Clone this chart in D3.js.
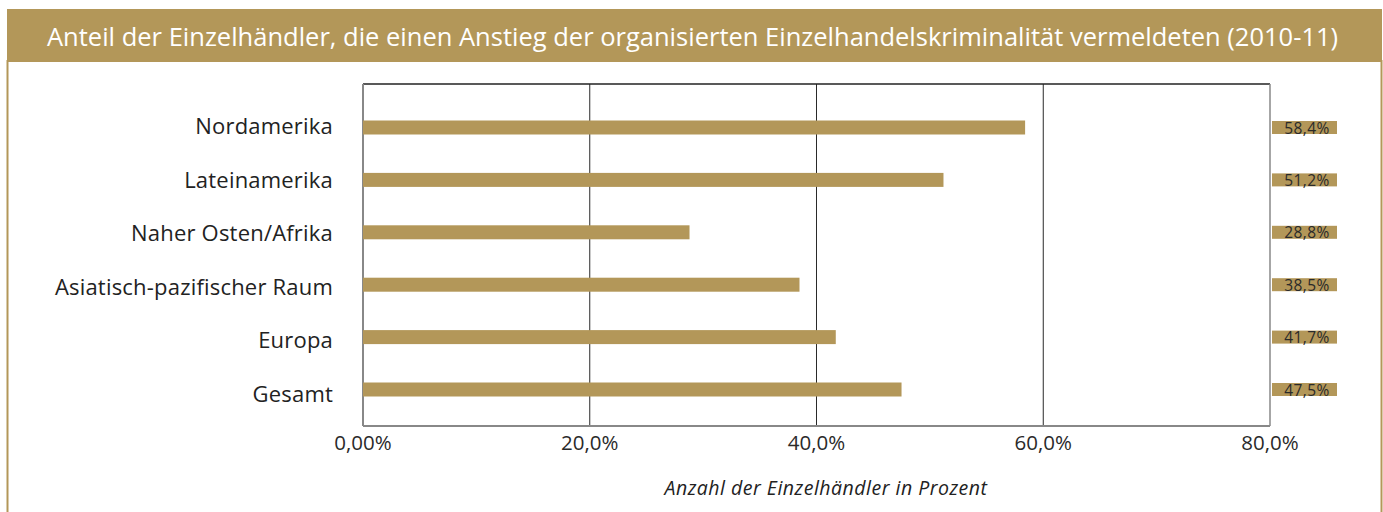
<!DOCTYPE html>
<html>
<head>
<meta charset="utf-8">
<script src="https://cdn.jsdelivr.net/npm/d3@7"></script>
<style>
  body { margin: 0; background: #fff; }
  svg { display: block; font-family: "Open Sans", "DejaVu Sans", sans-serif; }
</style>
</head>
<body>
<div id="chart"></div>
<script>
const titleText = "Anteil der Einzelhändler, die einen Anstieg der organisierten Einzelhandelskriminalität vermeldeten (2010-11)";
const regions = ["Nordamerika", "Lateinamerika", "Naher Osten/Afrika", "Asiatisch-pazifischer Raum", "Europa", "Gesamt"];
const shares = [58.4, 51.2, 28.8, 38.5, 41.7, 47.5];
const shareLabels = ["58,4%", "51,2%", "28,8%", "38,5%", "41,7%", "47,5%"];
const xTicks = [0, 20, 40, 60, 80];
const xTickLabels = ["0,00%", "20,0%", "40,0%", "60,0%", "80,0%"];
const axisTitle = "Anzahl der Einzelhändler in Prozent";

const W = 1383, H = 512;
const gold = "#b39759";

const svg = d3.select("#chart").append("svg")
    .attr("width", W)
    .attr("height", H);

// frame + title bar
svg.append("line").attr("x1", 7.5).attr("x2", 7.5).attr("y1", 60).attr("y2", H)
    .attr("stroke", gold).attr("stroke-width", 2);
svg.append("line").attr("x1", 1381.5).attr("x2", 1381.5).attr("y1", 60).attr("y2", H)
    .attr("stroke", gold).attr("stroke-width", 2);
svg.append("rect").attr("x", 7).attr("y", 9).attr("width", 1375).attr("height", 53)
    .attr("fill", gold);
svg.append("text")
    .attr("x", 47).attr("y", 46)
    .attr("fill", "#fff")
    .style("font-size", "25.5px")
    .text(titleText);

const x = d3.scaleLinear().domain([0, 80]).range([363, 1270]);
// bars and their labels don't sit on quite the same rows in the original
const y = d3.scalePoint().domain(regions).range([127.5, 389.5]);
const yLabel = d3.scalePoint().domain(regions).range([125, 393]);
const plotTop = 84, plotBottom = 426;
const barH = 14;

// vertical gridlines
svg.append("g").selectAll("line")
    .data(xTicks.slice(1, -1))
    .join("line")
    .attr("x1", d => x(d)).attr("x2", d => x(d))
    .attr("y1", plotTop).attr("y2", plotBottom)
    .attr("stroke", "#2a2a2a").attr("stroke-width", 1);

// plot frame
svg.append("line").attr("x1", x(0)).attr("x2", x(80)).attr("y1", plotTop).attr("y2", plotTop)
    .attr("stroke", "#222").attr("stroke-width", 1.5);
svg.append("line").attr("x1", x(80)).attr("x2", x(80)).attr("y1", plotTop).attr("y2", plotBottom)
    .attr("stroke", "#888").attr("stroke-width", 1.5);
svg.append("line").attr("x1", x(0)).attr("x2", x(0)).attr("y1", plotTop).attr("y2", plotBottom)
    .attr("stroke", "#888").attr("stroke-width", 2);
svg.append("line").attr("x1", x(0)).attr("x2", x(80)).attr("y1", plotBottom).attr("y2", plotBottom)
    .attr("stroke", "#888").attr("stroke-width", 2);

// bars
svg.append("g").selectAll("rect")
    .data(regions)
    .join("rect")
    .attr("x", x(0))
    .attr("y", d => y(d) - barH / 2)
    .attr("width", (d, i) => x(shares[i]) - x(0))
    .attr("height", barH)
    .attr("fill", gold);

// category labels
svg.append("g").selectAll("text")
    .data(regions)
    .join("text")
    .attr("x", 333)
    .attr("y", d => yLabel(d))
    .attr("text-anchor", "end")
    .attr("dominant-baseline", "central")
    .attr("fill", "#222")
    .style("font-size", "22px")
    .style("letter-spacing", "0.2px")
    .text(d => d);

// value boxes on the right
const vals = svg.append("g").selectAll("g")
    .data(regions)
    .join("g")
    .attr("transform", d => `translate(${x(80) + 2},${y(d)})`);
vals.append("rect")
    .attr("x", 0).attr("y", -6.5)
    .attr("width", 65).attr("height", 13)
    .attr("fill", gold);
vals.append("text")
    .attr("x", 35).attr("y", 0)
    .attr("text-anchor", "middle")
    .attr("dominant-baseline", "central")
    .attr("fill", "#2a2a2a")
    .style("font-size", "15.5px")
    .style("letter-spacing", "0.4px")
    .text((d, i) => shareLabels[i]);

// x tick labels
svg.append("g").selectAll("text")
    .data(xTicks)
    .join("text")
    .attr("x", d => x(d))
    .attr("y", 450)
    .attr("text-anchor", "middle")
    .attr("fill", "#2a2a2a")
    .style("font-size", "20.5px")
    .text((d, i) => xTickLabels[i]);

svg.append("text")
    .attr("x", 826).attr("y", 495)
    .attr("text-anchor", "middle")
    .attr("fill", "#222")
    .style("font-size", "19.5px")
    .style("font-style", "italic")
    .style("letter-spacing", "0.5px")
    .text(axisTitle);
</script>
</body>
</html>
